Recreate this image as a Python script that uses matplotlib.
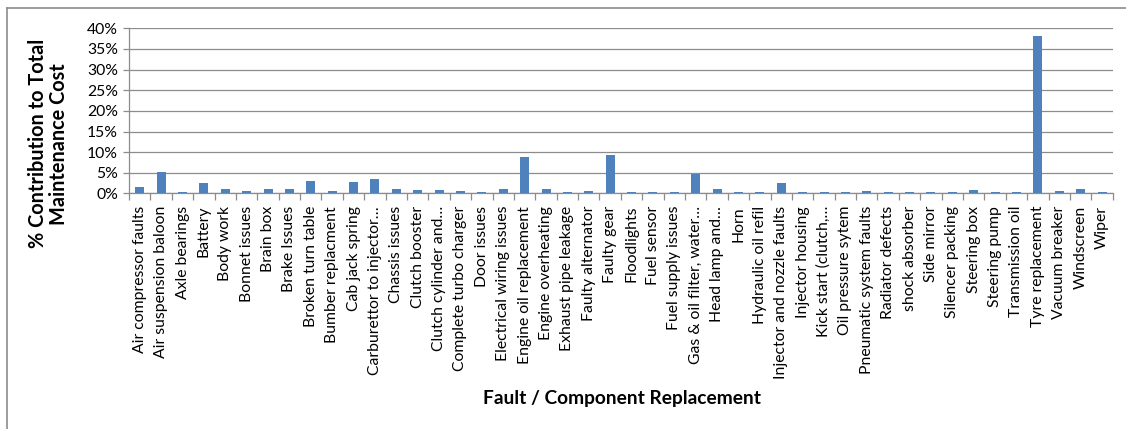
import matplotlib
matplotlib.use("Agg")
import matplotlib.pyplot as plt
from matplotlib.ticker import FuncFormatter, MultipleLocator
from matplotlib.lines import Line2D
import numpy as np

plt.rcParams['font.family'] = ['Lato', 'DejaVu Sans']

faults = [
    "Air compressor faults", "Air suspension baloon", "Axle bearings", "Battery",
    "Body work", "Bonnet issues", "Brain box", "Brake Issues", "Broken turn table",
    "Bumber replacment", "Cab jack spring", "Carburettor to injector…",
    "Chassis issues", "Clutch booster", "Clutch cylinder and…",
    "Complete turbo charger", "Door issues", "Electrical wiring issues",
    "Engine oil replacement", "Engine overheating", "Exhaust pipe leakage",
    "Faulty alternator", "Faulty gear", "Floodlights", "Fuel sensor",
    "Fuel supply issues", "Gas & oil filter, water…", "Head lamp and…", "Horn",
    "Hydraulic oil refil", "Injector and nozzle faults", "Injector housing",
    "Kick start (clutch,…", "Oil pressure sytem", "Pneumatic system faults",
    "Radiator defects", "shock absorber", "Side mirror", "Silencer packing",
    "Steering box", "Steering pump", "Transmission oil", "Tyre replacement",
    "Vacuum breaker", "Windscreen", "Wiper",
]
contribution = [
    1.5, 5.3, 0.3, 2.5, 1.0, 0.5, 1.2, 1.0, 3.1, 0.5, 2.7, 3.5,
    1.1, 0.9, 0.9, 0.7, 0.25, 1.0, 8.8, 1.2, 0.4, 0.6, 9.3, 0.25,
    0.25, 0.4, 4.6, 1.2, 0.25, 0.4, 2.6, 0.3, 0.25, 0.25, 0.55, 0.25,
    0.35, 0.35, 0.25, 0.8, 0.25, 0.25, 38.1, 0.55, 1.0, 0.35,
]

fig = plt.figure(figsize=(11.26, 4.29), dpi=100)
ax = fig.add_axes([0.1146, 0.549, 0.8736, 0.385])

x = np.arange(len(faults))
ax.bar(x, contribution, width=0.42, color='#4F81BD', zorder=3)

ax.set_xlim(-0.5, len(faults) - 0.5)
ax.set_ylim(0, 40)
ax.yaxis.set_major_locator(MultipleLocator(5))
ax.yaxis.set_major_formatter(FuncFormatter(lambda v, p: f"{v:.0f}%"))
ax.grid(axis='y', color='#8c8c8c', linewidth=0.9, zorder=0)

ax.set_xticks(x)
ax.set_xticklabels(faults, rotation=90, fontsize=11.3)
ax.set_xticks(np.arange(-0.5, len(faults)), minor=True)
ax.tick_params(axis='x', which='major', length=0, pad=9)
ax.tick_params(axis='x', which='minor', length=5, color='#8c8c8c', width=0.9)
ax.tick_params(axis='y', length=4, color='#8c8c8c', width=0.9, labelsize=11.3, pad=4)

for s in ['top', 'right']:
    ax.spines[s].set_visible(False)
for s in ['left', 'bottom']:
    ax.spines[s].set_color('#8c8c8c')
    ax.spines[s].set_linewidth(0.9)

fig.text(0.552, 0.072, "Fault / Component Replacement", ha='center', va='center',
         fontsize=13.8, fontweight='bold')
fig.text(0.043, 0.665, "% Contribution to Total\nMaintenance Cost", ha='center',
         va='center', rotation=90, fontsize=14.3, fontweight='bold', linespacing=1.05)

# chart frame (left and top edges visible)
fig.add_artist(Line2D([7 / 1126, 7 / 1126], [0, 1 - 8 / 429], color='#8c8c8c', lw=1.2,
                      transform=fig.transFigure))
fig.add_artist(Line2D([7 / 1126, 1], [1 - 8 / 429, 1 - 8 / 429], color='#8c8c8c', lw=1.2,
                      transform=fig.transFigure))

fig.savefig("out.png", dpi=100)
